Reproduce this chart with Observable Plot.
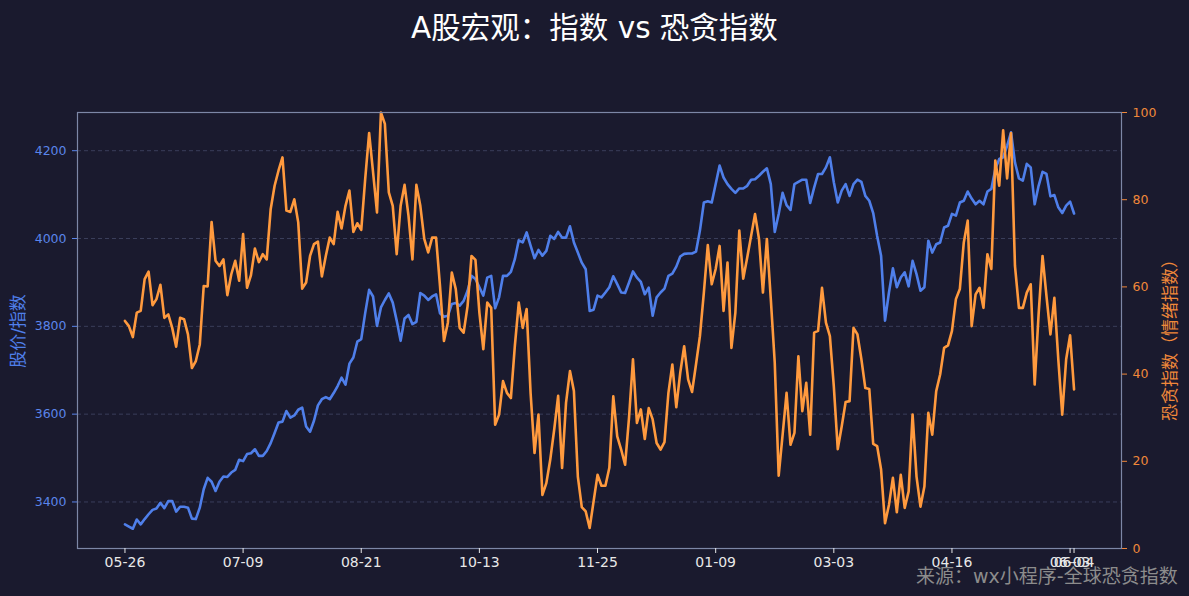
<!DOCTYPE html>
<html>
<head>
<meta charset="utf-8">
<script src="https://cdn.jsdelivr.net/npm/d3@7"></script>
<script src="https://cdn.jsdelivr.net/npm/@observablehq/plot@0.6"></script>
<style>
html,body{margin:0;padding:0;background:#1a1a2e;}
#wrap{position:relative;width:1189px;height:596px;overflow:hidden;background:#1a1a2e;font-family:"DejaVu Sans","Noto Sans CJK SC",sans-serif;}
#chart{position:absolute;left:0;top:0;}
#title{position:absolute;top:11px;left:0;width:1189px;text-align:center;color:#ffffff;font-size:29.5px;line-height:34px;white-space:nowrap;}
#caption{position:absolute;left:916px;top:563px;color:#8c8c8c;font-size:19px;line-height:26px;white-space:nowrap;}
.ylab{position:absolute;font-size:17px;line-height:20px;white-space:nowrap;transform:translate(-50%,-50%) rotate(-90deg);}
</style>
</head>
<body>
<div id="wrap">
  <div id="chart"></div>
  <div id="title">A股宏观：指数 vs 恐贪指数</div>
  <div id="caption">来源：wx小程序-全球恐贪指数</div>
  <div class="ylab" id="ylabL" style="left:18px;top:331px;color:#4f7fea;">股价/指数</div>
  <div class="ylab" id="ylabR" style="left:1170px;top:336px;color:#f0883a;">恐贪指数（情绪指数）</div>
</div>
<script>
// 指数 (left axis)
const indexValues = [
  3349,3344,3339,3360,3349,3361,3372,3382,3385,3398,
  3386,3402,3402,3378,3389,3389,3387,3362,3361,3387,
  3429,3455,3446,3425,3446,3458,3457,3467,3473,3496,
  3493,3509,3511,3520,3505,3505,3516,3534,3557,3581,
  3583,3607,3592,3597,3610,3615,3572,3560,3585,3620,
  3634,3639,3634,3648,3664,3683,3667,3715,3729,3765,
  3771,3830,3883,3868,3801,3843,3860,3875,3854,3813,
  3767,3818,3826,3805,3810,3876,3870,3860,3868,3873,
  3830,3822,3824,3851,3853,3847,3858,3881,3915,3908,
  3889,3870,3911,3915,3841,3866,3915,3915,3924,3953,
  3996,3991,4014,3984,3955,3974,3961,3972,4006,3999,
  4015,4002,4002,4028,3991,3968,3945,3930,3835,3838,
  3870,3866,3877,3889,3914,3896,3877,3876,3900,3925,
  3911,3901,3873,3888,3824,3866,3877,3886,3915,3920,
  3936,3959,3965,3966,3966,3970,4018,4082,4085,4082,
  4124,4166,4139,4124,4113,4104,4114,4114,4120,4134,
  4135,4143,4152,4160,4124,4015,4056,4104,4076,4065,
  4124,4129,4134,4134,4081,4116,4147,4147,4162,4185,
  4128,4082,4109,4124,4097,4124,4134,4129,4097,4086,
  4058,4006,3961,3813,3877,3932,3889,3911,3923,3891,
  3949,3919,3881,3889,3995,3968,3987,3991,4025,4029,
  4056,4052,4082,4086,4107,4091,4078,4086,4078,4107,
  4113,4158,4181,4185,4211,4242,4173,4137,4132,4170,
  4162,4078,4120,4152,4147,4096,4099,4071,4058,4075,
  4084,4057
];
// 恐贪指数 (right axis, 0-100)
const fearGreed = [
  52.2,51.0,48.5,54.1,54.5,61.8,63.5,55.8,57.2,60.5,
  52.9,53.7,50.6,46.3,52.9,52.6,49.1,41.4,43.0,46.8,
  60.2,60.1,74.9,66.0,64.8,66.3,58.1,62.9,66.0,61.4,
  72.1,59.8,62.7,68.8,65.7,67.5,66.3,77.8,83.2,86.7,
  89.7,77.5,77.2,80.1,74.8,59.6,61.0,67.1,69.8,70.4,
  62.4,67.1,71.3,69.8,77.2,73.4,78.6,82.1,72.6,74.6,
  73.1,84.7,95.3,86.3,77.1,100,97.4,81.7,78.6,67.5,
  78.6,83.4,76.3,66.3,83.4,78.6,71.0,67.9,71.3,71.3,
  60.2,47.6,51.8,63.3,59.5,50.6,49.5,55.6,67.1,66.2,
  54.1,45.7,56.4,55.2,28.4,30.7,38.4,35.7,34.5,46.4,
  56.4,50.6,54.9,35.7,21.9,30.7,12.3,15.0,20.4,27.3,
  35.0,18.5,33.4,40.7,36.1,16.5,9.5,8.5,4.7,10.8,
  16.9,14.4,14.4,18.5,34.9,25.7,22.7,19.2,30.0,43.4,
  28.8,31.9,25.1,32.2,29.6,24.2,22.7,24.4,35.7,42.2,
  32.4,40.3,46.4,38.8,35.9,42.2,48.7,58.7,69.6,60.6,
  64.1,69.4,54.5,65.6,46.0,54.1,72.9,61.9,66.7,71.7,
  76.7,71.0,58.7,71.0,57.2,42.6,16.7,26.1,35.7,23.8,
  26.5,44.1,31.5,38.0,26.1,49.5,49.9,59.8,51.8,48.7,
  37.2,22.8,28.0,33.6,33.8,50.6,49.1,43.4,36.8,36.6,
  24.0,23.5,18.1,5.8,10.0,16.2,8.3,16.9,9.3,13.1,
  30.7,16.5,9.6,14.2,31.1,26.1,36.1,39.9,46.0,46.6,
  49.9,57.2,59.5,70.2,75.2,51.0,58.3,59.8,55.2,67.5,
  64.1,89.0,83.2,95.9,84.9,95.3,64.8,55.2,55.2,58.7,
  60.6,37.6,53.7,67.1,57.9,49.1,57.5,43.4,30.7,43.4,
  48.9,36.5
];
const tickIdx = [0,30,60,90,120,150,180,210,240,241];
const tickLabels = ["05-26","07-09","08-21","10-13","11-25","01-09","03-03","04-16","06-03","06-04"];
const leftTicks = [3400,3600,3800,4000,4200];
const rightTicks = [0,20,40,60,80,100];

const Y0 = 3294, Y1 = 4287;
const toLeft = v => Y0 + v / 100 * (Y1 - Y0);
const n = indexValues.length;
const data = indexValues.map((v, i) => ({i, idx: v, fg: toLeft(fearGreed[i])}));
const pad = (n - 1) * 0.05;

const BLUE = "#4f7fea", ORANGE = "#ff9a3e";

const chart = Plot.plot({
  width: 1189,
  height: 596,
  marginLeft: 77,
  marginRight: 68,
  marginTop: 112,
  marginBottom: 48,
  style: {background: "#1a1a2e", color: "#e8e8e8", fontFamily: "'DejaVu Sans','Noto Sans CJK SC',sans-serif", fontSize: "12.5px"},
  x: {domain: [-pad, n - 1 + pad], axis: null},
  y: {domain: [Y0, Y1], axis: null},
  marks: [
    Plot.ruleY(leftTicks, {stroke: "#3a3e5a", strokeWidth: 1, strokeDasharray: "4,3"}),
    Plot.line(data, {x: "i", y: "idx", stroke: BLUE, strokeWidth: 2.6}),
    Plot.line(data, {x: "i", y: "fg", stroke: ORANGE, strokeWidth: 2.6}),
    Plot.frame({stroke: "#7d87a6", strokeWidth: 1.2}),
    Plot.axisY(leftTicks, {anchor: "left", color: "#5a85ea", tickSize: 5, tickPadding: 6, label: null,
      tickFormat: d => String(d)}),
    Plot.axisY(rightTicks.map(toLeft), {anchor: "right", color: "#f0883a", tickSize: 5, tickPadding: 6, label: null,
      tickFormat: d => String(Math.round((d - Y0) / (Y1 - Y0) * 100))}),
    Plot.axisX(tickIdx, {anchor: "bottom", color: "#e8e8e8", tickSize: 5, tickPadding: 4, label: null, fontSize: 14,
      tickFormat: d => tickLabels[tickIdx.indexOf(d)]})
  ]
});
document.getElementById("chart").appendChild(chart);
</script>
</body>
</html>
